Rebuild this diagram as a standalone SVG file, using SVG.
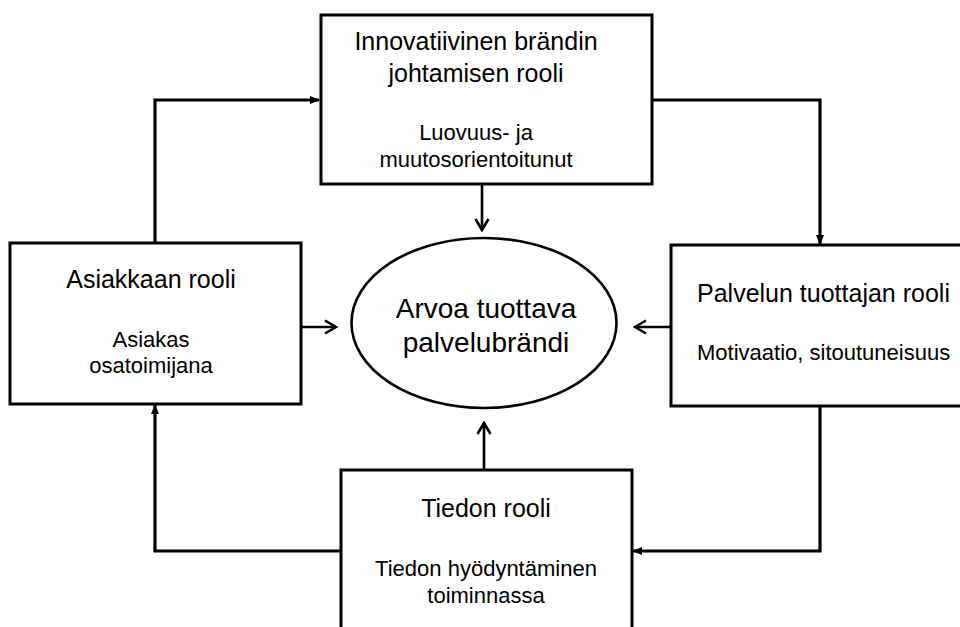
<svg xmlns="http://www.w3.org/2000/svg" width="960" height="627" viewBox="0 0 960 627">
<defs>
<marker id="tri" markerWidth="10" markerHeight="10" refX="9" refY="5" orient="auto" markerUnits="userSpaceOnUse">
<path d="M0,1 L10,5 L0,9 Z" fill="#000"/>
</marker>
<marker id="chev" markerWidth="14" markerHeight="16" refX="12" refY="8" orient="auto" markerUnits="userSpaceOnUse">
<path d="M1,1.5 L12,8 L1,14.5" fill="none" stroke="#000" stroke-width="2.6"/>
</marker>
</defs>
<style>
.box{fill:#fff;stroke:#000;stroke-width:3}
.ell{fill:#fff;stroke:#000;stroke-width:2.6}
.conn{fill:none;stroke:#000;stroke-width:3.2;stroke-linejoin:miter}
.cen{fill:none;stroke:#000;stroke-width:2.6}
text{font-family:"Liberation Sans",Arial,sans-serif;fill:#000}
.h{font-size:25px}
.s{font-size:22px}
.e{font-size:28px}
.c{text-anchor:middle}
</style>
<rect width="960" height="627" fill="#fff"/>
<g id="connectors">
<path class="conn" d="M155,243 V100 H319" marker-end="url(#tri)"/>
<path class="conn" d="M652,100 H820 V244" marker-end="url(#tri)"/>
<path class="conn" d="M820,406 V551 H633" marker-end="url(#tri)"/>
<path class="conn" d="M341,551 H155 V405" marker-end="url(#tri)"/>
<path class="cen" d="M482,184 V230" marker-end="url(#chev)"/>
<path class="cen" d="M301,327 H336" marker-end="url(#chev)"/>
<path class="cen" d="M671,327 H635" marker-end="url(#chev)"/>
<path class="cen" d="M484,470 V423" marker-end="url(#chev)"/>
</g>
<g id="top">
<rect class="box" x="321" y="15" width="331" height="169"/>
<text class="h c" x="476" y="50">Innovatiivinen brändin</text>
<text class="h c" x="476" y="82">johtamisen rooli</text>
<text class="s c" x="476" y="140">Luovuus- ja</text>
<text class="s c" x="476" y="167">muutosorientoitunut</text>
</g>
<g id="left">
<rect class="box" x="10" y="243" width="291" height="161"/>
<text class="h c" x="151" y="288">Asiakkaan rooli</text>
<text class="s c" x="151" y="347">Asiakas</text>
<text class="s c" x="151" y="373">osatoimijana</text>
</g>
<g id="right">
<rect class="box" x="671" y="245" width="300" height="161"/>
<text class="h" x="697" y="302">Palvelun tuottajan rooli</text>
<text class="s" x="697" y="360">Motivaatio, sitoutuneisuus</text>
</g>
<g id="bottom">
<rect class="box" x="341" y="470" width="291" height="170"/>
<text class="h c" x="486" y="517">Tiedon rooli</text>
<text class="s c" x="486" y="576">Tiedon hyödyntäminen</text>
<text class="s c" x="486" y="603">toiminnassa</text>
</g>
<g id="center">
<ellipse class="ell" cx="484" cy="323" rx="132.5" ry="85"/>
<text class="e c" x="486" y="318">Arvoa tuottava</text>
<text class="e c" x="486" y="352">palvelubrändi</text>
</g>
</svg>
